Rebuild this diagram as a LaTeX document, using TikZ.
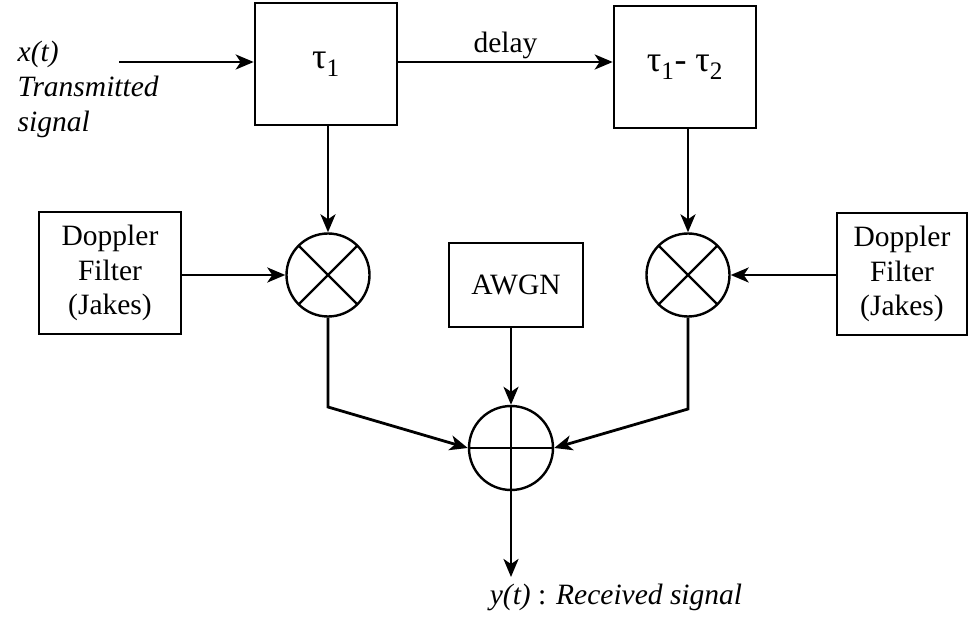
\documentclass[tikz,border=0pt]{standalone}
\usepackage{fontspec}
\setmainfont{Liberation Serif}
\usetikzlibrary{arrows.meta}

\begin{document}
\begin{tikzpicture}[>={Stealth[length=18pt,width=15pt,inset=5pt]}, x=1pt, y=-1pt,
	line width=2.8pt, font=\fontsize{29.5}{34.5}\selectfont,
	blk/.style={draw, line width=2.6pt, minimum width=142pt, minimum height=122pt, align=center, inner sep=0pt},
	mixer/.style={draw, circle, minimum size=83pt, inner sep=0pt, line width=2.4pt,
		path picture={\draw[line width=2.4pt] (path picture bounding box.north west) -- (path picture bounding box.south east)
			(path picture bounding box.north east) -- (path picture bounding box.south west);}},
	summer/.style={draw, circle, minimum size=84pt, inner sep=0pt, line width=2.4pt,
		path picture={\draw[line width=2.4pt] (path picture bounding box.west) -- (path picture bounding box.east)
			(path picture bounding box.north) -- (path picture bounding box.south);}}]
	\useasboundingbox (0,0) rectangle (969,617);
	% delay branches
	\node[blk, font=\fontsize{36}{40}\selectfont] (tau1) at (326,64) {τ\textsubscript{1}};
	\node[blk, font=\fontsize{36}{40}\selectfont] (tau12) at (685,67) {τ\textsubscript{1}- τ\textsubscript{2}};
	\node[mixer] (mult1) at (328,275) {};
	\node[mixer] (mult2) at (688,275) {};
	\node[blk] (dopL) at (110,273) {Doppler\\Filter\\(Jakes)};
	\node[blk, minimum width=130pt] (dopR) at (902,274) {Doppler\\Filter\\(Jakes)};
	\node[blk, minimum width=134pt, minimum height=84pt] (awgn) at (516,285) {AWGN};
	\node[summer] (adder) at (511,448) {};
	% labels
	\node[align=left, anchor=west, font={\fontsize{29.5}{35}\selectfont\itshape}] (xlbl) at (13,89) {x(t)\\Transmitted\\signal};
	\node (ylbl) at (616,597) {\textit{y(t)} : \textit{Received signal}};
	\coordinate (xin) at (119,62);
	\coordinate (yout) at (511,577);
	\coordinate (cL) at (331,407);
	\coordinate (cR) at (689,409);
	% connectors
	\draw[->] (xin) -- (xin -| tau1.west);
	\draw[->] (tau1.east |- xin) -- node[above, yshift=-2pt] {delay} (xin -| tau12.west);
	\draw[->] (tau1.south -| mult1) -- (mult1.north);
	\draw[->] (tau12.south -| mult2) -- (mult2.north);
	\draw[->] (dopL.east |- mult1) -- (mult1.west);
	\draw[->] (dopR.west |- mult2) -- (mult2.east);
	\draw[->] (awgn.south -| adder) -- (adder.north);
	\draw[->] (mult1.south) -- (mult1.south |- cL) -- (adder.west);
	\draw[->] (mult2.south) -- (mult2.south |- cR) -- (adder.east);
	\draw[->] (adder.south) -- (yout);
\end{tikzpicture}
\end{document}
